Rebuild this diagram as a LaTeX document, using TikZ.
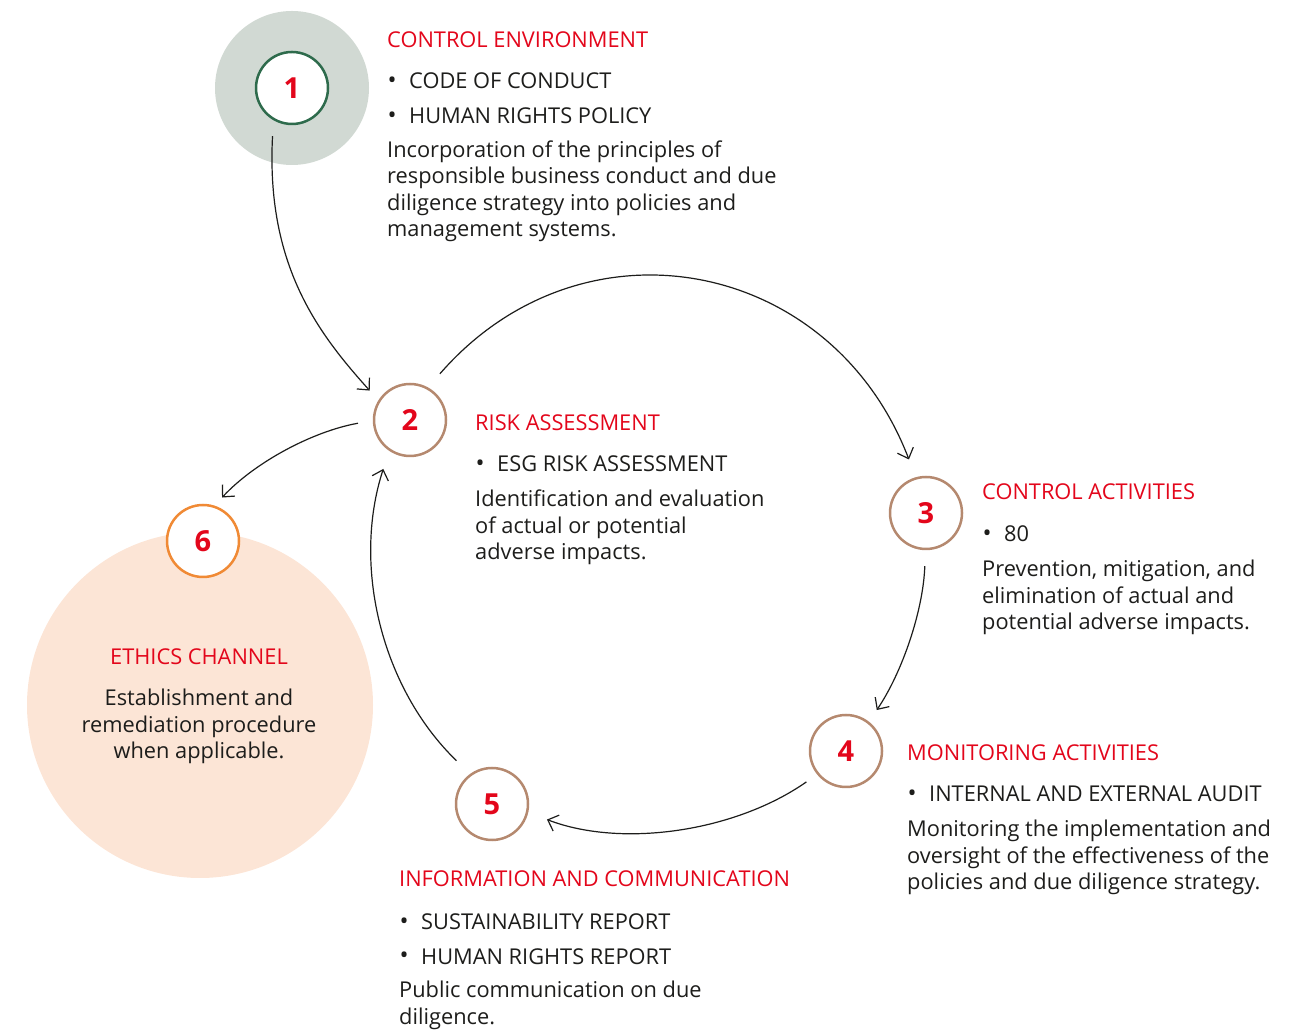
\documentclass[tikz,border=0pt]{standalone}
\usepackage{fontspec}
\setmainfont{Open Sans}
\usetikzlibrary{arrows.meta,backgrounds}
\definecolor{cycred}{HTML}{E3061B}
\definecolor{cycink}{HTML}{1D1D1B}
\definecolor{cycgreen}{HTML}{2E6B4C}
\definecolor{cycsage}{HTML}{D1D9D3}
\definecolor{cycbrown}{HTML}{B5896F}
\definecolor{cycorange}{HTML}{F08A35}
\definecolor{cycpeach}{HTML}{FCE5D6}
\tikzset{
  steptitle/.style={font=\fontsize{21.8}{26}\selectfont, text=cycred, inner sep=0pt},
  stepitem/.style={font=\fontsize{21.8}{26}\selectfont, text=cycink, inner sep=0pt},
  steptext/.style={font=\fontsize{21.8}{26.5}\selectfont, text=cycink, inner sep=0pt, align=left},
  stepring/.style={circle, draw=cycbrown, fill=white, line width=2.5pt, minimum size=72pt,
    inner sep=0pt, font=\fontsize{29}{29}\selectfont\bfseries, text=cycred},
  cycflow/.style={-{Straight Barb[length=9pt,width=17pt]}, draw=cycink, line width=1.2pt}
}
\newcommand{\cycdot}{\makebox[22pt][l]{\hspace{0.5pt}\raisebox{0.5pt}{\fontsize{24}{24}\selectfont\textbullet}}}

\begin{document}
\begin{tikzpicture}[x=1pt,y=1pt]
  \useasboundingbox (0,0) rectangle (1313,1030);

  % step circles
  \node[stepring, draw=cycgreen] (n1) at (292,942) {1};
  \node[stepring] (n2) at (410,610) {2};
  \node[stepring] (n3) at (926,517) {3};
  \node[stepring] (n4) at (846,279) {4};
  \node[stepring] (n5) at (492,226) {5};
  \node[stepring, draw=cycorange] (n6) at (203,489) {6};
  \begin{scope}[on background layer]
    \fill[cycsage] (n1) circle (77);
    \fill[cycpeach] (200,325) circle (173);
  \end{scope}

  % 1 control environment (text blocks sit on their last baseline)
  \node[steptitle, anchor=base west] (t1) at (387,982) {CONTROL ENVIRONMENT};
  \node[stepitem, anchor=base west] (i1a) at (387,941) {\cycdot CODE OF CONDUCT};
  \node[stepitem, anchor=base west] (i1b) at (387,906) {\cycdot HUMAN RIGHTS POLICY};
  \node[steptext, anchor=base west] (d1) at (387,793) {Incorporation of the principles of\\responsible business conduct and due\\diligence strategy into policies and\\management systems.};

  % 2 risk assessment
  \node[steptitle, anchor=base west] (t2) at (475,599) {RISK ASSESSMENT};
  \node[stepitem, anchor=base west] (i2a) at (475,558) {\cycdot ESG RISK ASSESSMENT};
  \node[steptext, anchor=base west] (d2) at (475,470) {Identification and evaluation\\of actual or potential\\adverse impacts.};

  % 3 control activities
  \node[steptitle, anchor=base west] (t3) at (982,530) {CONTROL ACTIVITIES};
  \node[stepitem, anchor=base west] (i3a) at (982,488) {\cycdot 80};
  \node[steptext, anchor=base west] (d3) at (982,400) {Prevention, mitigation, and\\elimination of actual and\\potential adverse impacts.};

  % 4 monitoring activities
  \node[steptitle, anchor=base west] (t4) at (907,269) {MONITORING ACTIVITIES};
  \node[stepitem, anchor=base west] (i4a) at (907,228) {\cycdot INTERNAL AND EXTERNAL AUDIT};
  \node[steptext, anchor=base west] (d4) at (907,140) {Monitoring the implementation and\\oversight of the effectiveness of the\\policies and due diligence strategy.};

  % 5 information and communication
  \node[steptitle, anchor=base west] (t5) at (399,143) {INFORMATION AND COMMUNICATION};
  \node[stepitem, anchor=base west] (i5a) at (399,100) {\cycdot SUSTAINABILITY REPORT};
  \node[stepitem, anchor=base west] (i5b) at (399,66) {\cycdot HUMAN RIGHTS REPORT};
  \node[steptext, anchor=base west] (d5) at (399,6) {Public communication on due\\diligence.};

  % 6 ethics channel
  \node[steptitle, anchor=base] (t6) at (199,365) {ETHICS CHANNEL};
  \node[steptext, align=center, anchor=base] (d6) at (199,271) {Establishment and\\remediation procedure\\when applicable.};

  % connectors
  \draw[cycflow, shorten <=16pt, shorten >=13pt]
    (n1.-120) .. controls +(-93:145) and +(132:90) .. (n2.148);
  \draw[cycflow, shorten <=18pt, shorten >=19pt]
    (n2.61) .. controls +(49:235) and +(111:235) .. (n3.106);
  \draw[cycflow, shorten <=16pt, shorten >=14pt]
    (n3.-91) .. controls +(-92:60) and +(56:60) .. (n4.52);
  \draw[cycflow, shorten <=13pt, shorten >=20pt]
    (n4.-141) .. controls +(-145:100) and +(-21:100) .. (n5.-13);
  \draw[cycflow, shorten <=19pt, shorten >=19pt]
    (n5.126) .. controls +(136:122) and +(-108:122) .. (n2.-124);
  \draw[cycflow, shorten <=15pt, shorten >=11pt]
    (n2.181) .. controls +(190:60) and +(47:60) .. (n6.72);
\end{tikzpicture}
\end{document}
